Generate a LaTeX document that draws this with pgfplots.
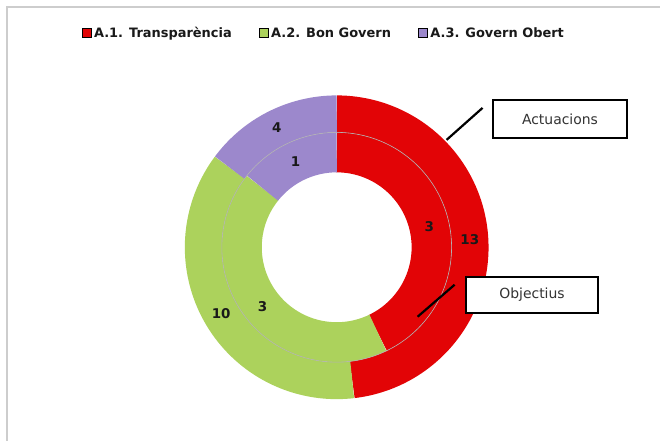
\documentclass[border=0pt]{standalone}
\usepackage{fontspec}
\setmainfont{DejaVu Sans}
\usepackage{pgfplots}
\usepackage{pgfplotstable}
\pgfplotsset{compat=1.18}
\usetikzlibrary{calc}
\definecolor{cRed}{RGB}{226,4,6}
\definecolor{cGreen}{RGB}{172,210,92}
\definecolor{cPurple}{RGB}{156,136,204}
\definecolor{cFrame}{RGB}{205,205,205}
\definecolor{cTxt}{RGB}{25,25,25}

\pgfplotstableread{
label outer inner
A1 13 3
A2 10 3
A3 4 1
}\donutdata

\begin{document}
\begin{tikzpicture}
% read values
\pgfplotstablegetelem{0}{outer}\of\donutdata \edef\Oa{\pgfplotsretval}
\pgfplotstablegetelem{1}{outer}\of\donutdata \edef\Ob{\pgfplotsretval}
\pgfplotstablegetelem{2}{outer}\of\donutdata \edef\Oc{\pgfplotsretval}
\pgfplotstablegetelem{0}{inner}\of\donutdata \edef\Ia{\pgfplotsretval}
\pgfplotstablegetelem{1}{inner}\of\donutdata \edef\Ib{\pgfplotsretval}
\pgfplotstablegetelem{2}{inner}\of\donutdata \edef\Ic{\pgfplotsretval}
% angles (visual, 90 = top, clockwise)
\pgfmathsetmacro\Ot{\Oa+\Ob+\Oc}
\pgfmathsetmacro\OaE{90-360*\Oa/\Ot}
\pgfmathsetmacro\ObE{\OaE-360*\Ob/\Ot}
\pgfmathsetmacro\OcE{\ObE-360*\Oc/\Ot}
\pgfmathsetmacro\OaM{(90+\OaE)/2}
\pgfmathsetmacro\ObM{(\OaE+\ObE)/2}
\pgfmathsetmacro\OcM{(\ObE+\OcE)/2}
\pgfmathsetmacro\It{\Ia+\Ib+\Ic}
\pgfmathsetmacro\IaE{90-360*\Ia/\It}
\pgfmathsetmacro\IbE{\IaE-360*\Ib/\It}
\pgfmathsetmacro\IcE{\IbE-360*\Ic/\It}
\pgfmathsetmacro\IaM{(90+\IaE)/2}
\pgfmathsetmacro\IbM{(\IaE+\IbE)/2}
\pgfmathsetmacro\IcM{(\IbE+\IcE)/2}
\def\cx{337}\def\cy{247.5}
\def\Ro{133.5}\def\Ri{95}
\begin{axis}[
  x=1bp, y=1bp, y dir=reverse,
  xmin=0, xmax=661, ymin=0, ymax=441,
  hide axis, clip=false, scale only axis,
  legend columns=3,
  legend style={draw=none, fill=none, at={(axis cs:82,33)}, anchor=west,
    font=\bfseries\fontsize{13}{14}\selectfont, text=cTxt,
    /tikz/every even column/.append style={column sep=25bp},
    nodes={inner xsep=2.5bp},
    inner xsep=0pt, inner ysep=0pt},
  legend image code/.code={\fill[#1] (0bp,-4.5bp) rectangle (9bp,4.5bp);},
]
\fill[white] (axis cs:0,0) rectangle (axis cs:661,441);
\draw[cFrame, line width=1.2bp] (axis cs:7,441) -- (axis cs:7,7) -- (axis cs:661,7);

\addlegendimage{fill=cRed}
\addlegendentry{A.1. Transparència}
\addlegendimage{fill=cGreen}
\addlegendentry{A.2. Bon Govern}
\addlegendimage{fill=cPurple}
\addlegendentry{A.3. Govern Obert}

% outer ring: Actuacions
\addplot[forget plot, no marks, draw=cRed, line width=37bp, domain=\OaE:90, samples=90]
  ({\cx+\Ro*cos(x)},{\cy-\Ro*sin(x)});
\addplot[forget plot, no marks, draw=cGreen, line width=37bp, domain=\ObE:\OaE, samples=90]
  ({\cx+\Ro*cos(x)},{\cy-\Ro*sin(x)});
\addplot[forget plot, no marks, draw=cPurple, line width=37bp, domain=\OcE:\ObE, samples=60]
  ({\cx+\Ro*cos(x)},{\cy-\Ro*sin(x)});
% inner ring: Objectius
\addplot[forget plot, no marks, draw=cRed, line width=40bp, domain=\IaE:90, samples=90]
  ({\cx+\Ri*cos(x)},{\cy-\Ri*sin(x)});
\addplot[forget plot, no marks, draw=cGreen, line width=40bp, domain=\IbE:\IaE, samples=90]
  ({\cx+\Ri*cos(x)},{\cy-\Ri*sin(x)});
\addplot[forget plot, no marks, draw=cPurple, line width=40bp, domain=\IcE:\IbE, samples=60]
  ({\cx+\Ri*cos(x)},{\cy-\Ri*sin(x)});
% ring separation
\addplot[forget plot, no marks, draw=black!30, line width=0.6bp, domain=-270:90, samples=180]
  ({\cx+115*cos(x)},{\cy-115*sin(x)});

% value labels
\begin{scope}[every node/.style={font=\bfseries\fontsize{13.5}{14}\selectfont, text=cTxt}]
\node at ($(axis cs:\cx,\cy)+(\OaM:\Ro bp)$) {\Oa};
\node at ($(axis cs:\cx,\cy)+(\ObM:\Ro bp)$) {\Ob};
\node at ($(axis cs:\cx,\cy)+(\OcM:\Ro bp)$) {\Oc};
\node at ($(axis cs:\cx,\cy)+(\IaM:\Ri bp)$) {\Ia};
\node at ($(axis cs:\cx,\cy)+(\IbM:\Ri bp)$) {\Ib};
\node at ($(axis cs:\cx,\cy)+(\IcM:\Ri bp)$) {\Ic};
\end{scope}

% callouts
\draw[black, line width=2.2bp] (axis cs:483,108) -- (axis cs:447,140);
\draw[black, line width=2.2bp] (axis cs:455,285) -- (axis cs:418,317);
\draw[black, line width=2bp, fill=white] (axis cs:493,100) rectangle (axis cs:628,138);
\draw[black, line width=2bp, fill=white] (axis cs:466,277) rectangle (axis cs:599,313);
\node[font=\fontsize{14}{15}\selectfont, text=black!80] at (axis cs:560.5,119) {Actuacions};
\node[font=\fontsize{14}{15}\selectfont, text=black!80] at (axis cs:532.5,295) {Objectius};
\end{axis}
\end{tikzpicture}
\end{document}
